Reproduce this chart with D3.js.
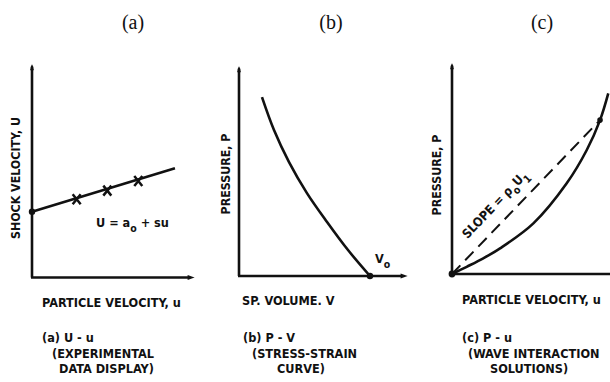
<!DOCTYPE html>
<html>
<head>
<meta charset="utf-8">
<script src="https://cdn.jsdelivr.net/npm/d3@7"></script>
<style>
  html, body { margin: 0; padding: 0; background: #fff; }
  svg { display: block; }
  .lab { font-family: "DejaVu Sans Condensed", "DejaVu Sans", sans-serif; font-weight: bold; fill: #111; }
  .ttl { font-family: "Liberation Serif", "DejaVu Serif", serif; fill: #111; }
</style>
</head>
<body>
<svg id="chart" width="610" height="382"></svg>
<script>
// ---- text ----
const titles   = ["(a)", "(b)", "(c)"];
const yLabels  = ["SHOCK VELOCITY, U", "PRESSURE, P", "PRESSURE, P"];
const xLabels  = ["PARTICLE VELOCITY, u", "SP. VOLUME. V", "PARTICLE VELOCITY, u"];
const captionsA = ["(a)  U - u", "(EXPERIMENTAL", "DATA DISPLAY)"];
const captionsB = ["(b)  P - V", "(STRESS-STRAIN", "CURVE)"];
const captionsC = ["(c)  P - u", "(WAVE INTERACTION", "SOLUTIONS)"];

// ---- (a) U-u : measured points and linear fit U = a0 + s u ----
const measU_u  = [2.74, 4.62, 6.52];
const measU_U  = [3.65, 4.05, 4.50];
const fitU_u   = [0, 8.77];
const fitU_U   = [3.07, 5.09];

// ---- (b) P-V : Hugoniot in the pressure / specific-volume plane ----
const pvV = [1.36, 2.07, 2.96, 4.02, 5.21, 6.45, 7.75];
const pvP = [8.48, 6.92, 5.40, 3.93, 2.56, 1.23, 0.00];

// ---- (c) P-u : Hugoniot and Rayleigh line (slope rho0*U1) ----
const puU = [0, 0.93, 1.98, 3.04, 5.15, 7.26, 8.53, 9.37, 9.89];
const puP = [0, 0.34, 0.74, 1.21, 2.39, 4.28, 5.85, 7.26, 8.52];
const rayU = [0, 9.37];
const rayP = [0, 7.26];

const svg = d3.select("#chart");
const INK = "#111";
const FS = 12.6;     // label font size
const FS_SUB = 10.5; // subscript size

// arrowheads
const defs = svg.append("defs");
defs.append("marker").attr("id", "arrR")
  .attr("viewBox", "0 0 10 10").attr("refX", 2).attr("refY", 5)
  .attr("markerUnits", "userSpaceOnUse").attr("markerWidth", 9).attr("markerHeight", 7)
  .attr("orient", "auto")
  .append("path").attr("d", "M0,1.5 L10,5 L0,8.5 Z").attr("fill", INK);
defs.append("marker").attr("id", "arrU")
  .attr("viewBox", "0 0 10 10").attr("refX", 2).attr("refY", 5)
  .attr("markerUnits", "userSpaceOnUse").attr("markerWidth", 9).attr("markerHeight", 6)
  .attr("orient", "auto")
  .append("path").attr("d", "M0,2 Q6,2 10,5 Q6,8 0,8 Z").attr("fill", INK);

// each panel: linear scales over a 0..10 data range; only (a) and (b) show an x arrow
const panels = [
  { xr: [32, 195],  yr: [277.5, 63], xArrow: true },
  { xr: [239, 408], yr: [276, 65],   xArrow: true },
  { xr: [452, 610], yr: [274, 62],   xArrow: false }
];
const scales = panels.map(p => ({
  x: d3.scaleLinear().domain([0, 10]).range(p.xr),
  y: d3.scaleLinear().domain([0, 10]).range(p.yr)
}));

function drawAxes(i) {
  const p = panels[i], sx = scales[i].x, sy = scales[i].y;
  const g = svg.append("g");
  g.append("line")
    .attr("x1", sx(0)).attr("y1", sy(0)).attr("x2", sx(0)).attr("y2", sy(10) + 6)
    .attr("stroke", INK).attr("stroke-width", 2.6)
    .attr("marker-end", "url(#arrU)");
  g.append("line")
    .attr("x1", sx(0) - 1).attr("y1", sy(0)).attr("x2", p.xArrow ? sx(10) - 6 : sx(10)).attr("y2", sy(0))
    .attr("stroke", INK).attr("stroke-width", 2.6)
    .attr("marker-end", p.xArrow ? "url(#arrR)" : null);
}
panels.forEach((p, i) => drawAxes(i));

// titles
const titleX = [133, 331, 542];
titles.forEach((t, i) => {
  svg.append("text").attr("class", "ttl")
    .attr("x", titleX[i]).attr("y", 29).attr("text-anchor", "middle")
    .attr("font-size", 20).text(t);
});

// axis labels
const yLabPos = [[20, 178], [230, 174], [441, 175]];
yLabels.forEach((t, i) => {
  svg.append("text").attr("class", "lab")
    .attr("transform", `translate(${yLabPos[i][0]},${yLabPos[i][1]}) rotate(-90)`)
    .attr("text-anchor", "middle").attr("font-size", 12.3).text(t);
});
const xLabPos = [[42, 307], [242, 305], [462, 304]];
xLabels.forEach((t, i) => {
  svg.append("text").attr("class", "lab")
    .attr("x", xLabPos[i][0]).attr("y", xLabPos[i][1])
    .attr("font-size", FS).text(t);
});

// captions
const capSets = [captionsA, captionsB, captionsC];
const capX = [[42, 52, 59], [243, 252, 277], [462, 468, 490]];
const capY = [342, 357.5, 372.5];
capSets.forEach((lines, i) => {
  lines.forEach((t, j) => {
    svg.append("text").attr("class", "lab")
      .attr("x", capX[i][j]).attr("y", capY[j])
      .attr("font-size", FS).text(t);
  });
});

// ---- panel (a) ----
{
  const sx = scales[0].x, sy = scales[0].y;
  svg.append("path").datum(d3.zip(fitU_u, fitU_U))
    .attr("d", d3.line().x(d => sx(d[0])).y(d => sy(d[1])))
    .attr("fill", "none").attr("stroke", INK).attr("stroke-width", 2.6);
  svg.append("circle").attr("cx", sx(fitU_u[0])).attr("cy", sy(fitU_U[0]))
    .attr("r", 3.2).attr("fill", INK);
  const s = 4;
  svg.append("g").selectAll("path").data(d3.zip(measU_u, measU_U)).join("path")
    .attr("d", d => {
      const cx = sx(d[0]), cy = sy(d[1]);
      return `M${cx - s},${cy - s - 1}L${cx + s},${cy + s + 1}M${cx + s},${cy - s - 1}L${cx - s},${cy + s + 1}`;
    })
    .attr("stroke", INK).attr("stroke-width", 2.5).attr("fill", "none");
  const eq = svg.append("text").attr("class", "lab")
    .attr("x", 96).attr("y", 227).attr("font-size", FS);
  eq.append("tspan").text("U = a");
  eq.append("tspan").attr("dy", 5).attr("font-size", FS_SUB).text("o");
  eq.append("tspan").attr("dy", -5).text(" + su");
}

// ---- panel (b) ----
{
  const sx = scales[1].x, sy = scales[1].y;
  svg.append("path").datum(d3.zip(pvV, pvP))
    .attr("d", d3.line().x(d => sx(d[0])).y(d => sy(d[1])).curve(d3.curveCatmullRom))
    .attr("fill", "none").attr("stroke", INK).attr("stroke-width", 2.6);
  const last = pvV.length - 1;
  svg.append("circle").attr("cx", sx(pvV[last])).attr("cy", sy(pvP[last]))
    .attr("r", 3.2).attr("fill", INK);
  const v0 = svg.append("text").attr("class", "lab")
    .attr("x", sx(pvV[last]) + 5).attr("y", sy(0) - 13).attr("font-size", FS);
  v0.append("tspan").text("V");
  v0.append("tspan").attr("dy", 5).attr("font-size", FS_SUB).text("o");
}

// ---- panel (c) ----
{
  const sx = scales[2].x, sy = scales[2].y;
  svg.append("path").datum(d3.zip(puU, puP))
    .attr("d", d3.line().x(d => sx(d[0])).y(d => sy(d[1])).curve(d3.curveCatmullRom))
    .attr("fill", "none").attr("stroke", INK).attr("stroke-width", 2.6);
  svg.append("path").datum(d3.zip(rayU, rayP))
    .attr("d", d3.line().x(d => sx(d[0])).y(d => sy(d[1])))
    .attr("fill", "none").attr("stroke", INK).attr("stroke-width", 2)
    .attr("stroke-dasharray", "12,7");
  svg.append("circle").attr("cx", sx(0)).attr("cy", sy(0)).attr("r", 3.4).attr("fill", INK);
  svg.append("circle").attr("cx", sx(rayU[1])).attr("cy", sy(rayP[1])).attr("r", 2.8).attr("fill", INK);

  // slope label laid along the Rayleigh line, above it
  const x0 = sx(0), y0 = sy(0), x1 = sx(rayU[1]), y1 = sy(rayP[1]);
  const len = Math.hypot(x1 - x0, y1 - y0);
  const ux = (x1 - x0) / len, uy = (y1 - y0) / len;
  const ang = Math.atan2(y1 - y0, x1 - x0) * 180 / Math.PI;
  const along = 80, off = 13;
  const cx = x0 + ux * along + uy * off, cy = y0 + uy * along - ux * off;
  const lab = svg.append("text").attr("class", "lab")
    .attr("transform", `translate(${cx},${cy}) rotate(${ang})`)
    .attr("text-anchor", "middle").attr("font-size", FS);
  lab.append("tspan").text("SLOPE = ρ");
  lab.append("tspan").attr("dy", 5).attr("font-size", FS_SUB).text("o");
  lab.append("tspan").attr("dy", -5).text("U");
  lab.append("tspan").attr("dy", 5).attr("font-size", FS_SUB).text("1");
}
</script>
</body>
</html>
